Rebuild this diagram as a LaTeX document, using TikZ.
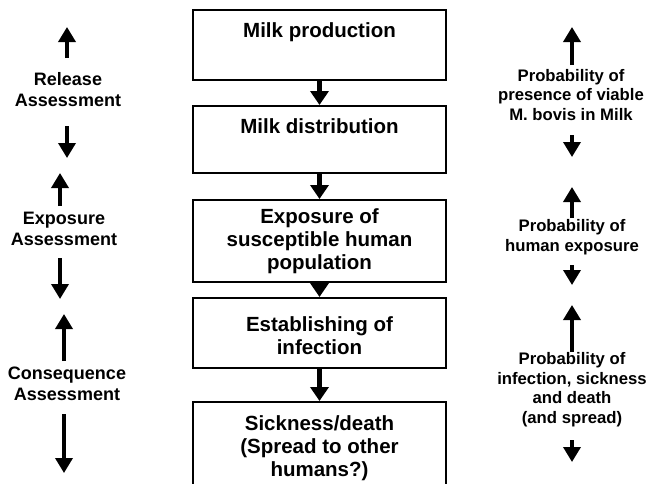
\documentclass[tikz,border=0pt]{standalone}
\usepackage{fontspec}
\setmainfont{Liberation Sans}
\usetikzlibrary{arrows.meta}
\begin{document}
\begin{tikzpicture}[x=1pt,y=-1pt,
  box/.style={draw, line width=2pt, minimum width=253pt, inner sep=0pt},
  boxtext/.style={font=\fontsize{20.5}{23}\selectfont\bfseries, align=center, inner sep=0pt, anchor=base},
  lefttext/.style={font=\fontsize{18}{21}\selectfont\bfseries, align=center, inner sep=0pt, anchor=base},
  righttext/.style={font=\fontsize{16.7}{19.5}\selectfont\bfseries, align=center, inner sep=0pt, anchor=base},
  flow/.style={line width=5pt, -{Triangle[width=18pt,length=14pt]}},
  side/.style={line width=3.5pt, -{Triangle[width=17pt,length=15pt]}},
]
\clip (0,0) rectangle (649,483);
\fill[white] (0,0) rectangle (649,483);

% boxes
\node[box, minimum height=70pt] (b1) at (319.5,45) {};
\node[box, minimum height=67pt] (b2) at (319.5,139.5) {};
\node[box, minimum height=82pt] (b3) at (319.5,241) {};
\node[box, minimum height=70pt] (b4) at (319.5,333) {};
\node[box, minimum height=93pt] (b5) at (319.5,448.5) {};

% box texts (anchor = baseline of last line)
\node[boxtext] (t1) at (319.5,37) {Milk production};
\node[boxtext] (t2) at (319.5,133) {Milk distribution};
\node[boxtext] (t3) at (319.5,269) {Exposure of\\susceptible human\\population};
\node[boxtext] (t4) at (319.5,354) {Establishing of\\infection};
\node[boxtext] (t5) at (319.5,476) {Sickness/death\\(Spread to other\\humans?)};

% flow arrows
\draw[flow] (b1.south) -- (b2.north);
\draw[flow] (b2.south) -- (b3.north);
\draw[flow] (b3.south) -- (b4.north);
\draw[flow] (b4.south) -- (b5.north);

% left texts
\node[lefttext] (rel) at (68,106) {Release\\Assessment};
\node[lefttext] (exp) at (64,245) {Exposure\\Assessment};
\node[lefttext] (con) at (67,400) {Consequence\\Assessment};

% left arrows
\coordinate (ra1) at (67,58);  \coordinate (ra2) at (67,27);
\coordinate (rb1) at (67,126); \coordinate (rb2) at (67,158);
\coordinate (ea1) at (60,206); \coordinate (ea2) at (60,173);
\coordinate (eb1) at (60,258); \coordinate (eb2) at (60,299);
\coordinate (ca1) at (64,361); \coordinate (ca2) at (64,314);
\coordinate (cb1) at (64,414); \coordinate (cb2) at (64,473);
\draw[side] (ra1) -- (ra2);
\draw[side] (rb1) -- (rb2);
\draw[side] (ea1) -- (ea2);
\draw[side] (eb1) -- (eb2);
\draw[side] (ca1) -- (ca2);
\draw[side] (cb1) -- (cb2);

% right texts
\node[righttext] (p1) at (571,120) {Probability of\\presence of viable\\M. bovis in Milk};
\node[righttext] (p2) at (572,251) {Probability of\\human exposure};
\node[righttext] (p3) at (572,423) {Probability of\\infection, sickness\\and death\\(and spread)};

% right arrows
\coordinate (pa1) at (572,65);  \coordinate (pa2) at (572,27);
\coordinate (pb1) at (572,135); \coordinate (pb2) at (572,157);
\coordinate (qa1) at (572,218); \coordinate (qa2) at (572,187);
\coordinate (qb1) at (572,265); \coordinate (qb2) at (572,285);
\coordinate (sa1) at (572,352); \coordinate (sa2) at (572,305);
\coordinate (sb1) at (572,440); \coordinate (sb2) at (572,462);
\draw[side] (pa1) -- (pa2);
\draw[side] (pb1) -- (pb2);
\draw[side] (qa1) -- (qa2);
\draw[side] (qb1) -- (qb2);
\draw[side] (sa1) -- (sa2);
\draw[side] (sb1) -- (sb2);
\end{tikzpicture}
\end{document}
